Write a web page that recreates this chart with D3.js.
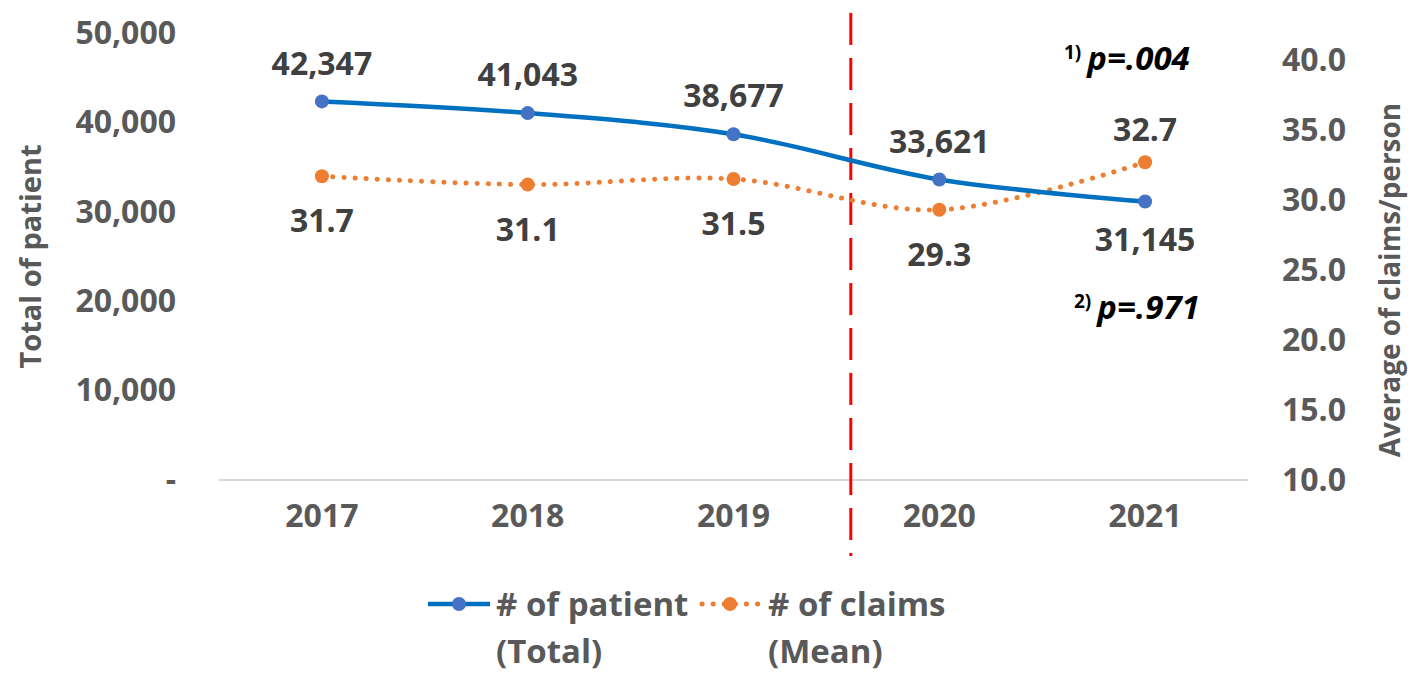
<!DOCTYPE html>
<html>
<head>
<meta charset="utf-8">
<script src="https://cdn.jsdelivr.net/npm/d3@7/dist/d3.min.js"></script>
<style>
  html, body { margin: 0; padding: 0; background: #fff; }
  svg { display: block; font-family: "Open Sans", "Noto Sans", sans-serif; }
</style>
</head>
<body>
<svg id="chart" width="1417" height="681"></svg>
<script>
const years = ['2017', '2018', '2019', '2020', '2021'];
const patients = [42347, 41043, 38677, 33621, 31145];
const claims = [31.7, 31.1, 31.5, 29.3, 32.7];
const leftTicks = [0, 10000, 20000, 30000, 40000, 50000];
const rightTicks = [10, 15, 20, 25, 30, 35, 40];
const patientLabelPos = ['above', 'above', 'above', 'above', 'below'];
const claimLabelPos = ['below', 'below', 'below', 'below', 'above'];

const blueLine = '#0070c0';
const blueDot = '#4472c4';
const orange = '#ed7d31';
const tickColor = '#595959';
const labelColor = '#404040';

const svg = d3.select('#chart');

const x = d3.scaleBand().domain(years).range([219, 1248]).padding(0);
const cx = d => x(d) + x.bandwidth() / 2;
const yLeft = d3.scaleLinear().domain([0, 50000]).range([480, 33]);
const yRight = d3.scaleLinear().domain([10, 40]).range([480, 60]);

function styleAxis(g) {
  g.attr('font-family', null).attr('font-size', null);
  g.select('.domain').remove();
  g.selectAll('text')
    .attr('font-size', 32).attr('font-weight', 700)
    .attr('fill', tickColor);
}

// baseline
svg.append('line')
  .attr('x1', 219).attr('x2', 1248)
  .attr('y1', yLeft(0)).attr('y2', yLeft(0))
  .attr('stroke', '#d9d9d9').attr('stroke-width', 2);

// left axis
svg.append('g')
  .attr('transform', 'translate(176,0)')
  .call(d3.axisLeft(yLeft).tickValues(leftTicks).tickSize(0).tickPadding(0)
    .tickFormat(d => d === 0 ? '-' : d3.format(',')(d)))
  .call(styleAxis);

// right axis
svg.append('g')
  .attr('transform', 'translate(1282,0)')
  .call(d3.axisRight(yRight).tickValues(rightTicks).tickSize(0).tickPadding(0)
    .tickFormat(d3.format('.1f')))
  .call(styleAxis);

// x axis labels
svg.append('g')
  .attr('transform', `translate(0,${yLeft(0) + 14})`)
  .call(d3.axisBottom(x).tickSize(0).tickPadding(10))
  .call(styleAxis);

// axis titles
svg.append('text')
  .attr('transform', `translate(41,${(33 + 480) / 2}) rotate(-90)`)
  .attr('text-anchor', 'middle')
  .attr('font-size', 29).attr('font-weight', 700)
  .attr('fill', tickColor)
  .text('Total of patient');

svg.append('text')
  .attr('transform', `translate(1400,${(60 + 480) / 2 + 10}) rotate(-90)`)
  .attr('text-anchor', 'middle')
  .attr('font-size', 28).attr('font-weight', 700)
  .attr('fill', tickColor)
  .text('Average of claims/person');

// red dashed divider between 2019 and 2020
const dividerX = cx('2019') + x.bandwidth() * 0.57;
svg.append('line')
  .attr('x1', dividerX).attr('x2', dividerX)
  .attr('y1', 13).attr('y2', 556)
  .attr('stroke', '#ff0000').attr('stroke-width', 3)
  .attr('stroke-dasharray', '32 13');

// series lines
const curve = d3.curveCatmullRom.alpha(0.5);
const patientLine = d3.line().x((d, i) => cx(years[i])).y(d => yLeft(d)).curve(curve);
const claimLine = d3.line().x((d, i) => cx(years[i])).y(d => yRight(d)).curve(curve);

svg.append('path')
  .datum(claims)
  .attr('d', claimLine)
  .attr('fill', 'none')
  .attr('stroke', orange).attr('stroke-width', 5)
  .attr('stroke-linecap', 'round')
  .attr('stroke-dasharray', '0.1 11');

svg.append('path')
  .datum(patients)
  .attr('d', patientLine)
  .attr('fill', 'none')
  .attr('stroke', blueLine).attr('stroke-width', 4.5);

svg.append('g').selectAll('circle')
  .data(claims)
  .join('circle')
  .attr('cx', (d, i) => cx(years[i]))
  .attr('cy', d => yRight(d))
  .attr('r', 7)
  .attr('fill', orange);

svg.append('g').selectAll('circle')
  .data(patients)
  .join('circle')
  .attr('cx', (d, i) => cx(years[i]))
  .attr('cy', d => yLeft(d))
  .attr('r', 7)
  .attr('fill', blueDot);

// data labels
svg.append('g').selectAll('text')
  .data(patients)
  .join('text')
  .attr('x', (d, i) => cx(years[i]))
  .attr('y', (d, i) => yLeft(d) + (patientLabelPos[i] === 'above' ? -38 : 38))
  .attr('dy', '0.35em')
  .attr('text-anchor', 'middle')
  .attr('font-size', 32).attr('font-weight', 700)
  .attr('fill', labelColor)
  .text(d => d3.format(',')(d));

svg.append('g').selectAll('text')
  .data(claims)
  .join('text')
  .attr('x', (d, i) => cx(years[i]))
  .attr('y', (d, i) => yRight(d) + (claimLabelPos[i] === 'above' ? -32 : 45))
  .attr('dy', '0.35em')
  .attr('text-anchor', 'middle')
  .attr('font-size', 32).attr('font-weight', 700)
  .attr('fill', labelColor)
  .text(d => d3.format('.1f')(d));

// p-value notes
function pNote(xPos, yPos, mark, value) {
  const t = svg.append('text')
    .attr('x', xPos).attr('y', yPos)
    .attr('fill', '#000')
    .attr('font-weight', 700);
  t.append('tspan')
    .attr('font-size', 19)
    .attr('dy', -11)
    .text(mark);
  t.append('tspan')
    .attr('font-size', 33)
    .attr('font-style', 'italic')
    .attr('dx', 6)
    .attr('dy', 11)
    .text(value);
}
pNote(1064, 70, '1)', 'p=.004');
pNote(1074, 319, '2)', 'p=.971');

// legend
const legend = svg.append('g').attr('transform', 'translate(0,604)');

legend.append('line')
  .attr('x1', 428).attr('x2', 490).attr('y1', 0).attr('y2', 0)
  .attr('stroke', blueLine).attr('stroke-width', 4.5);
legend.append('circle')
  .attr('cx', 459).attr('cy', 0).attr('r', 7).attr('fill', blueDot);

legend.append('line')
  .attr('x1', 702).attr('x2', 762).attr('y1', 0).attr('y2', 0)
  .attr('stroke', orange).attr('stroke-width', 5)
  .attr('stroke-linecap', 'round')
  .attr('stroke-dasharray', '0.1 11');
legend.append('circle')
  .attr('cx', 730).attr('cy', 0).attr('r', 7).attr('fill', orange);

const legendItems = [
  { x: 496, lines: ['# of patient', '(Total)'] },
  { x: 768, lines: ['# of claims', '(Mean)'] }
];
legendItems.forEach(item => {
  const t = legend.append('text')
    .attr('x', item.x).attr('y', 0)
    .attr('font-size', 33).attr('font-weight', 700)
    .attr('fill', tickColor);
  item.lines.forEach((line, i) => {
    t.append('tspan')
      .attr('x', item.x)
      .attr('dy', i === 0 ? '0.35em' : 47)
      .text(line);
  });
});
</script>
</body>
</html>
